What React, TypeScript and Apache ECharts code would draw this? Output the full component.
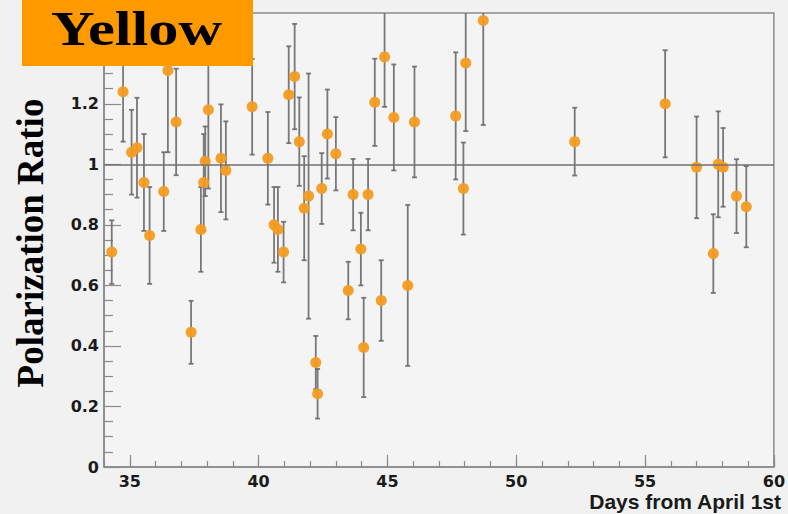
import React, { useEffect, useRef } from "react";
import * as echarts from "echarts";

const days = [34.30, 34.74, 35.07, 35.28, 35.55, 35.77, 36.32, 36.48, 36.80, 37.38, 37.76, 37.87, 37.93, 38.05, 38.54, 38.73, 39.75, 40.36, 40.60, 40.75, 40.97, 41.17, 41.40, 41.58, 41.77, 41.94, 42.22, 42.29, 42.45, 42.67, 43.00, 43.48, 43.67, 43.97, 44.08, 44.25, 44.51, 44.76, 44.89, 45.25, 45.79, 46.05, 47.65, 47.95, 48.04, 48.72, 52.27, 55.78, 57.00, 57.65, 57.84, 58.03, 58.55, 58.93];
const ratio = [0.71, 1.24, 1.04, 1.055, 0.94, 0.765, 0.91, 1.31, 1.14, 0.445, 0.785, 0.94, 1.01, 1.18, 1.02, 0.98, 1.19, 1.02, 0.80, 0.785, 0.71, 1.23, 1.29, 1.075, 0.855, 0.895, 0.345, 0.242, 0.92, 1.10, 1.035, 0.583, 0.90, 0.72, 0.395, 0.90, 1.205, 0.55, 1.355, 1.155, 0.60, 1.14, 1.16, 0.92, 1.335, 1.475, 1.075, 1.20, 0.99, 0.705, 1.0, 0.99, 0.895, 0.86];
const err = [0.105, 0.165, 0.14, 0.165, 0.16, 0.16, 0.13, 0.27, 0.176, 0.104, 0.14, 0.16, 0.115, 0.26, 0.178, 0.162, 0.158, 0.153, 0.125, 0.14, 0.10, 0.16, 0.174, 0.146, 0.172, 0.405, 0.088, 0.082, 0.117, 0.147, 0.121, 0.095, 0.118, 0.12, 0.164, 0.118, 0.144, 0.133, 0.165, 0.175, 0.266, 0.183, 0.21, 0.152, 0.225, 0.345, 0.112, 0.177, 0.168, 0.13, 0.175, 0.13, 0.122, 0.134];

const xMajorTicks = [35, 40, 45, 50, 55, 60];
const referenceLevel = 1;
const titleText = "Yellow";
const yTitle = "Polarization Ratio";
const xTitle = "Days from April 1st";

export default function App() {
  const ref = useRef<HTMLDivElement>(null);
  useEffect(() => {
    if (!ref.current) return;
    const chart = echarts.init(ref.current, undefined, { renderer: "svg" });
    const axisGrey = "#8a8a8a";
    const labelFont = "DejaVu Sans";
    const points = days.map((d, i) => [d, ratio[i]]);
    const bars = days.map((d, i) => [d, ratio[i], err[i]]);
    chart.setOption({
      animation: false,
      backgroundColor: "#f1f1f1",
      grid: {
        left: 104,
        right: 9,
        top: 13,
        bottom: 47,
        show: true,
        backgroundColor: "#f4f4f4",
        borderColor: axisGrey,
        borderWidth: 1.5,
      },
      xAxis: [
        {
          type: "value",
          min: 34,
          max: 60,
          interval: 1,
          axisLine: { show: true, lineStyle: { color: axisGrey, width: 1.5 } },
          axisTick: { show: true, inside: true, length: 6, lineStyle: { color: axisGrey, width: 1.2 } },
          axisLabel: {
            margin: 6,
            color: "#1a1a1a",
            fontFamily: labelFont,
            fontWeight: "bold",
            fontSize: 16,
            formatter: (v: number) => (Math.round(v) % 5 === 0 ? String(Math.round(v)) : ""),
          },
          splitLine: { show: false },
        },
        {
          type: "value",
          min: 34,
          max: 60,
          position: "bottom",
          axisLine: { show: false },
          axisTick: {
            show: true,
            inside: true,
            length: 12,
            customValues: xMajorTicks,
            lineStyle: { color: axisGrey, width: 1.2 },
          },
          axisLabel: { show: false },
          splitLine: { show: false },
        },
      ],
      yAxis: {
        type: "value",
        min: 0,
        max: 1.5,
        interval: 0.2,
        axisLine: { show: true, lineStyle: { color: axisGrey, width: 1.5 } },
        axisTick: { show: true, inside: true, length: 17, lineStyle: { color: axisGrey, width: 1.2 } },
        minorTick: { show: true, splitNumber: 4, length: 9, lineStyle: { color: axisGrey, width: 1.2 } },
        axisLabel: {
          margin: 5,
          color: "#1a1a1a",
          fontFamily: labelFont,
          fontWeight: "bold",
          fontSize: 16,
        },
        splitLine: { show: false },
        minorSplitLine: { show: false },
      },
      series: [
        {
          type: "custom",
          xAxisIndex: 0,
          yAxisIndex: 0,
          clip: true,
          z: 2,
          data: bars,
          renderItem: (params: any, api: any) => {
            const x = api.value(0);
            const y = api.value(1);
            const e = api.value(2);
            const top = api.coord([x, y + e]);
            const bot = api.coord([x, y - e]);
            const cap = 2.5;
            const style = { stroke: "#6a6a6a", lineWidth: 1.8, opacity: 0.9 };
            return {
              type: "group",
              children: [
                { type: "line", shape: { x1: top[0], y1: top[1], x2: bot[0], y2: bot[1] }, style },
                { type: "line", shape: { x1: top[0] - cap, y1: top[1], x2: top[0] + cap, y2: top[1] }, style },
                { type: "line", shape: { x1: bot[0] - cap, y1: bot[1], x2: bot[0] + cap, y2: bot[1] }, style },
              ],
            };
          },
        },
        {
          type: "scatter",
          xAxisIndex: 0,
          yAxisIndex: 0,
          z: 3,
          symbol: "circle",
          symbolSize: 11,
          itemStyle: { color: "#f29b22", opacity: 0.95 },
          data: points,
          markLine: {
            silent: true,
            symbol: ["none", "none"],
            label: { show: false },
            lineStyle: { color: "#707070", width: 1.6, type: "solid" },
            data: [{ yAxis: referenceLevel }],
          },
        },
      ],
      graphic: [
        {
          type: "rect",
          z: 100,
          shape: { x: 22, y: 0, width: 231, height: 66 },
          style: { fill: "#ff9900" },
        },
        {
          type: "text",
          z: 101,
          x: 51,
          y: 28,
          scaleX: 1.22,
          style: {
            text: titleText,
            font: "bold 49.5px 'Liberation Serif', 'Times New Roman', serif",
            fill: "#000000",
            textAlign: "left",
            textVerticalAlign: "middle",
          },
        },
        {
          type: "text",
          z: 101,
          x: 30,
          y: 243,
          rotation: Math.PI / 2,
          style: {
            text: yTitle,
            font: "bold 37px 'Liberation Serif', 'Times New Roman', serif",
            fill: "#000000",
            textAlign: "center",
            textVerticalAlign: "middle",
          },
        },
        {
          type: "text",
          z: 101,
          x: 781,
          y: 501,
          style: {
            text: xTitle,
            font: "bold 21px 'Liberation Sans', Arial, sans-serif",
            lineHeight: 21,
            fill: "#1a1a1a",
            textAlign: "right",
            textVerticalAlign: "middle",
          },
        },
      ],
    });
    return () => chart.dispose();
  }, []);
  return (
    <div
      ref={ref}
      style={{ position: "fixed", left: 0, top: 0, width: 788, height: 514, background: "#f1f1f1" }}
    />
  );
}
